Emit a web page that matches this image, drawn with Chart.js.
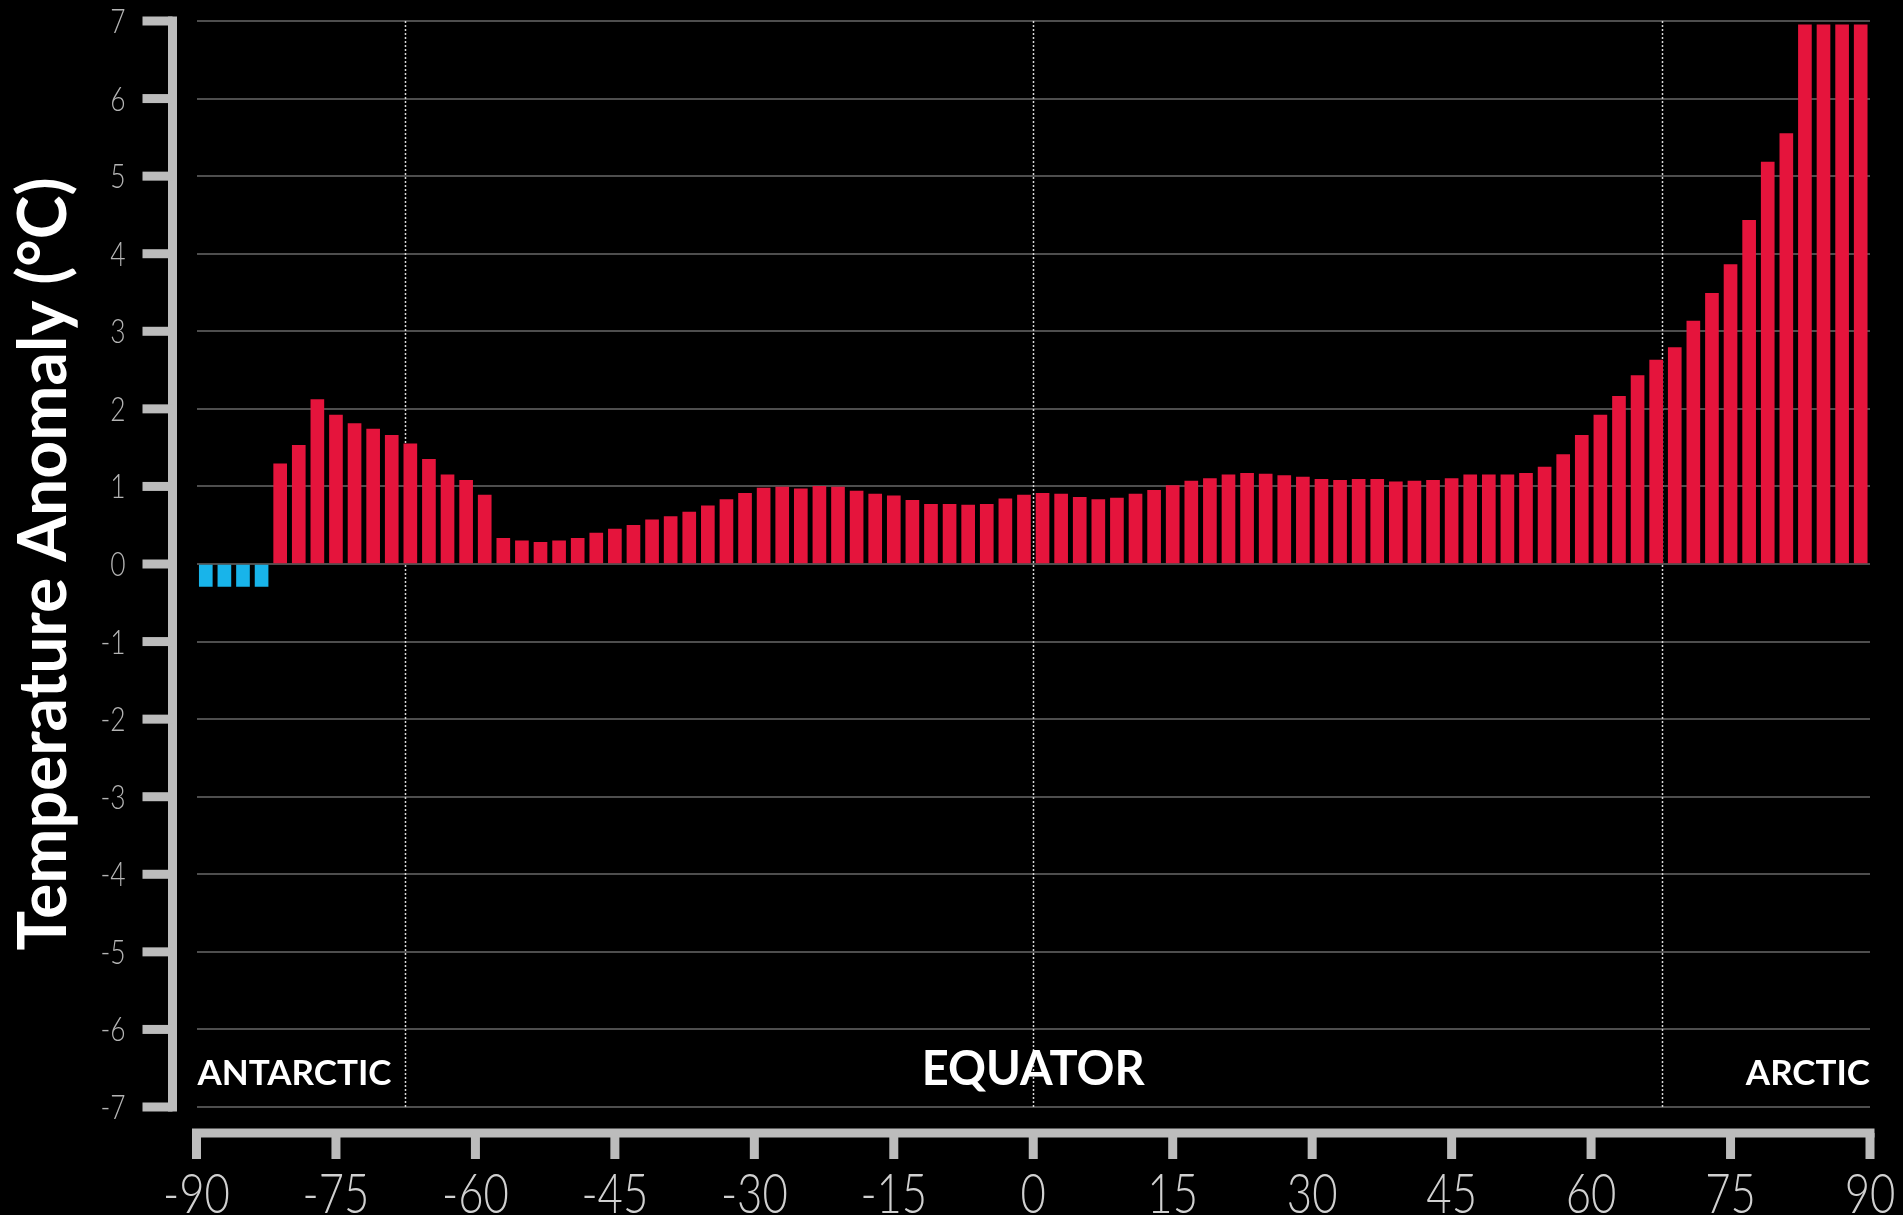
<!DOCTYPE html>
<html lang="en">
<head>
<meta charset="UTF-8">
<title>Temperature Anomaly by Latitude</title>
<script src="https://cdn.jsdelivr.net/npm/chart.js"></script>
<style>
    html, body {
        margin: 0;
        padding: 0;
        background: #000;
    }
    .wrap {
        width: 1903px;
        height: 1215px;
        position: relative;
    }
</style>
</head>
<body>
<div class="wrap"><canvas id="anomalyChart"></canvas></div>
<script>
// bar centres, 2 degree latitude bands
const latitudes = [
    -89, -87, -85, -83, -81, -79, -77, -75, -73, -71,
    -69, -67, -65, -63, -61, -59, -57, -55, -53, -51,
    -49, -47, -45, -43, -41, -39, -37, -35, -33, -31,
    -29, -27, -25, -23, -21, -19, -17, -15, -13, -11,
    -9, -7, -5, -3, -1, 1, 3, 5, 7, 9,
    11, 13, 15, 17, 19, 21, 23, 25, 27, 29,
    31, 33, 35, 37, 39, 41, 43, 45, 47, 49,
    51, 53, 55, 57, 59, 61, 63, 65, 67, 69,
    71, 73, 75, 77, 79, 81, 83, 85, 87, 89
];
// temperature anomaly (deg C)
const anomalies = [
    -0.29, -0.29, -0.29, -0.29, 1.29, 1.53, 2.12, 1.92, 1.81, 1.74,
    1.66, 1.55, 1.35, 1.15, 1.08, 0.89, 0.33, 0.30, 0.28, 0.30,
    0.33, 0.40, 0.45, 0.50, 0.57, 0.61, 0.67, 0.75, 0.83, 0.91,
    0.98, 0.99, 0.97, 1.00, 0.99, 0.94, 0.90, 0.88, 0.82, 0.77,
    0.77, 0.76, 0.77, 0.84, 0.89, 0.91, 0.90, 0.86, 0.83, 0.85,
    0.90, 0.95, 1.01, 1.07, 1.10, 1.15, 1.17, 1.16, 1.14, 1.12,
    1.09, 1.08, 1.09, 1.09, 1.06, 1.07, 1.08, 1.10, 1.15, 1.15,
    1.15, 1.17, 1.25, 1.41, 1.66, 1.92, 2.16, 2.43, 2.63, 2.79,
    3.13, 3.49, 3.86, 4.43, 5.18, 5.55, 6.95, 6.95, 6.95, 6.95
];
const regionLabels = ['ANTARCTIC', 'EQUATOR', 'ARCTIC'];
const markerLats = [-67.6, 0, 67.6]; // polar circles + equator

// thin condensed look for the tick numbers
function squeezedText(ctx, text, x, y, squeeze) {
    ctx.save();
    ctx.translate(x, y);
    ctx.scale(squeeze, 1);
    ctx.fillText(text, 0, 0);
    ctx.restore();
}

// axis bars, tick numbers, dotted marker lines and region names
const axisDecor = {
    id: 'axisDecor',
    beforeDatasetsDraw(chart) {
        const {ctx, chartArea, scales: {x}} = chart;
        ctx.save();
        ctx.strokeStyle = '#d8d8d8';
        ctx.lineWidth = 1.5;
        ctx.setLineDash([2, 2]);
        markerLats.forEach(lat => {
            const px = Math.round(x.getPixelForValue(lat)) + 0.5;
            ctx.beginPath();
            ctx.moveTo(px, chartArea.top);
            ctx.lineTo(px, chartArea.bottom);
            ctx.stroke();
        });
        ctx.restore();
    },
    afterDraw(chart) {
        const {ctx, chartArea, scales: {x, y}} = chart;
        const w = 9;
        ctx.save();
        ctx.fillStyle = '#bcbcbc';

        // y axis
        const ax = chartArea.left - 24;
        const yTop = y.getPixelForValue(7);
        const yBot = y.getPixelForValue(-7);
        ctx.fillRect(ax - w / 2, yTop - w / 2, w, yBot - yTop + w);
        y.ticks.forEach(t => {
            const py = y.getPixelForValue(t.value);
            ctx.fillRect(chartArea.left - 54, py - w / 2, 30, w);
        });

        // x axis
        const ay = chartArea.bottom + 26;
        const xL = x.getPixelForValue(-90);
        const xR = x.getPixelForValue(90);
        ctx.fillRect(xL - w / 2, ay - w / 2, xR - xL + w, w);
        x.ticks.forEach(t => {
            const px = x.getPixelForValue(t.value);
            ctx.fillRect(px - w / 2, ay, w, 26);
        });

        // tick numbers
        ctx.textBaseline = 'alphabetic';
        ctx.fillStyle = '#b4b4b4';
        ctx.font = '300 33px Lato';
        ctx.textAlign = 'right';
        y.ticks.forEach(t => {
            squeezedText(ctx, t.label, chartArea.left - 71, y.getPixelForValue(t.value) + 12, 0.8);
        });
        ctx.fillStyle = '#d0d0d0';
        ctx.font = '300 56px Lato';
        ctx.textAlign = 'center';
        x.ticks.forEach(t => {
            squeezedText(ctx, t.label, x.getPixelForValue(t.value), chartArea.bottom + 106, 0.78);
        });

        // region names
        ctx.fillStyle = '#fff';
        const base = chartArea.bottom - 22;
        ctx.font = 'bold 35px Lato';
        ctx.textAlign = 'left';
        ctx.fillText(regionLabels[0], xL + 1, base);
        ctx.textAlign = 'right';
        ctx.fillText(regionLabels[2], xR, base);
        ctx.font = 'bold 47px Lato';
        ctx.textAlign = 'center';
        ctx.fillText(regionLabels[1], x.getPixelForValue(0), base);
        ctx.restore();
    }
};

new Chart(document.getElementById('anomalyChart'), {
    type: 'bar',
    data: {
        datasets: [{
            data: latitudes.map((lat, i) => ({x: lat, y: anomalies[i]})),
            backgroundColor: anomalies.map(v => v < 0 ? '#18b4ea' : '#e5143c'),
            barThickness: 13,
            borderWidth: 0
        }]
    },
    options: {
        responsive: true,
        maintainAspectRatio: false,
        animation: false,
        layout: {
            padding: {left: 0, right: 33, top: 21, bottom: 0}
        },
        plugins: {
            legend: {display: false},
            tooltip: {enabled: false}
        },
        scales: {
            x: {
                type: 'linear',
                min: -90,
                max: 90,
                offset: false,
                grid: {display: false, drawTicks: false},
                border: {display: false},
                ticks: {stepSize: 15, display: false},
                afterFit(scale) {
                    scale.height = 108;
                    scale.paddingLeft = 0;
                    scale.paddingRight = 0;
                }
            },
            y: {
                min: -7,
                max: 7,
                grid: {color: '#4e4e4e', lineWidth: 2, drawTicks: false},
                border: {display: false},
                ticks: {stepSize: 1, display: false},
                title: {
                    display: true,
                    text: 'Temperature Anomaly (°C)',
                    color: '#fff',
                    font: {size: 66, weight: 'bold', family: 'Lato'},
                    padding: {top: 5, bottom: 0}
                },
                afterFit(scale) {
                    scale.width = 196.5;
                    scale.paddingTop = 0;
                    scale.paddingBottom = 0;
                }
            }
        }
    },
    plugins: [axisDecor]
});
</script>
</body>
</html>
